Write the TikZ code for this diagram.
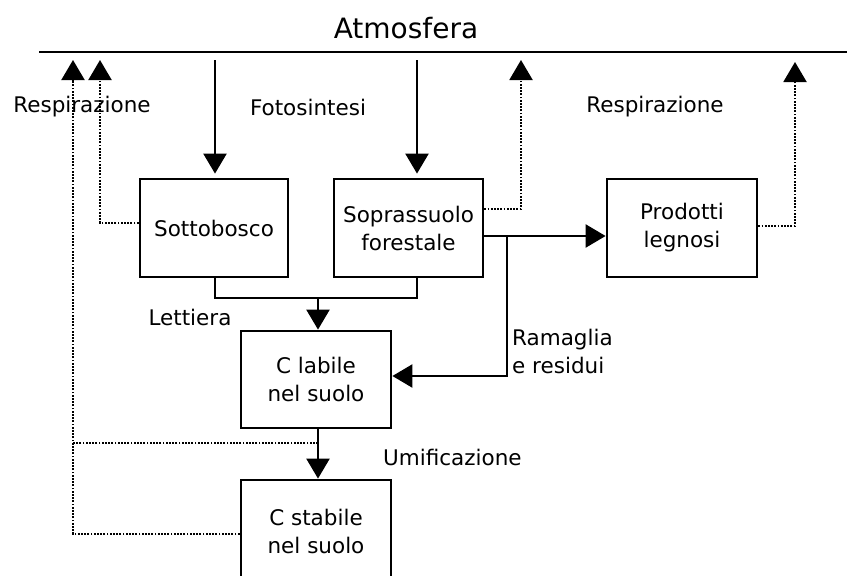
\documentclass[tikz,border=0pt]{standalone}
\usepackage{fontspec}
\setmainfont{DejaVu Sans}
\usetikzlibrary{arrows.meta}
\begin{document}
\begin{tikzpicture}[x=1pt,y=-1pt,
  box/.style={draw,line width=2.8pt,minimum width=148pt,minimum height=98pt,align=center,font=\fontsize{21.5}{28}\selectfont,inner sep=0pt},
  lbl/.style={font=\fontsize{21.5}{28}\selectfont,align=left,inner sep=0pt},
  conn/.style={line width=2.4pt},
  tip/.style={-{Triangle[length=20pt,width=23pt]}},
  dots/.style={line width=2pt,dash pattern=on 1.8pt off 1.4pt},
]
\clip (0,0) rectangle (847,576);
\node[font=\fontsize{28}{32}\selectfont,inner sep=0pt] (atm) at (406,28) {Atmosfera};
\coordinate (aL) at (39,52);
\coordinate (aR) at (850,52);
\draw[line width=2.6pt] (aL) -- (aR);

\node[box] (sotto) at (214,228) {Sottobosco};
\node[box,minimum width=149pt] (sopr) at (408.5,228) {Soprassuolo\\forestale};
\node[box,minimum width=150pt] (prod) at (682,228) {Prodotti\\legnosi};
\node[box,minimum width=150pt,minimum height=97pt] (lab) at (316,379.5) {C labile\\nel suolo};
\node[box,minimum width=150pt,minimum height=102pt] (stab) at (316,531) {C stabile\\nel suolo};

\node[lbl] (resp1) at (82,107) {Respirazione};
\node[lbl] (foto) at (308,107) {Fotosintesi};
\node[lbl] (resp2) at (655,107) {Respirazione};
\node[lbl] (lett) at (190,317) {Lettiera};
\node[lbl,anchor=west] (ram) at (512,351) {Ramaglia\\e residui};
\node[lbl,anchor=west] (umif) at (383,457) {Umificazione};

% photosynthesis
\coordinate (f1) at (215,60);
\coordinate (f2) at (417,60);
\draw[conn,tip,shorten >=4pt] (f1) -- (f1 |- sotto.north);
\draw[conn,tip,shorten >=4pt] (f2) -- (f2 |- sopr.north);

% respiration (dotted)
\coordinate (r1) at (73,60);
\coordinate (r2) at (100,60);
\coordinate (r3) at (521,60);
\coordinate (r4) at (795,62);
\draw[dots,tip] ([yshift=5pt]sotto.west) -| (r2);
\draw[dots,tip] ([yshift=19pt]sopr.east) -| (r3);
\draw[dots,tip] ([yshift=2pt]prod.east) -| (r4);
\draw[dots,tip] ([yshift=-3pt]stab.west) -| (r1);
\coordinate (hm) at (318,443);
\draw[dots] (hm) -- (hm -| r1);

% wood products and residues
\coordinate (se) at ([yshift=-8pt]sopr.east);
\draw[conn,tip] (se) -- (se -| prod.west);
\coordinate (br) at (507,236);
\coordinate (rm) at (507,376);
\draw[conn,tip] (br) -- (rm) -- (rm -| lab.east);

% litter
\coordinate (j) at (318,298);
\draw[conn] (sotto.south -| f1) |- (j);
\draw[conn] (sopr.south -| f2) |- (j);
\draw[conn,tip] (j) -- (j |- lab.north);

% humification
\draw[conn,tip] (lab.south -| hm) -- (stab.north -| hm);
\end{tikzpicture}
\end{document}
